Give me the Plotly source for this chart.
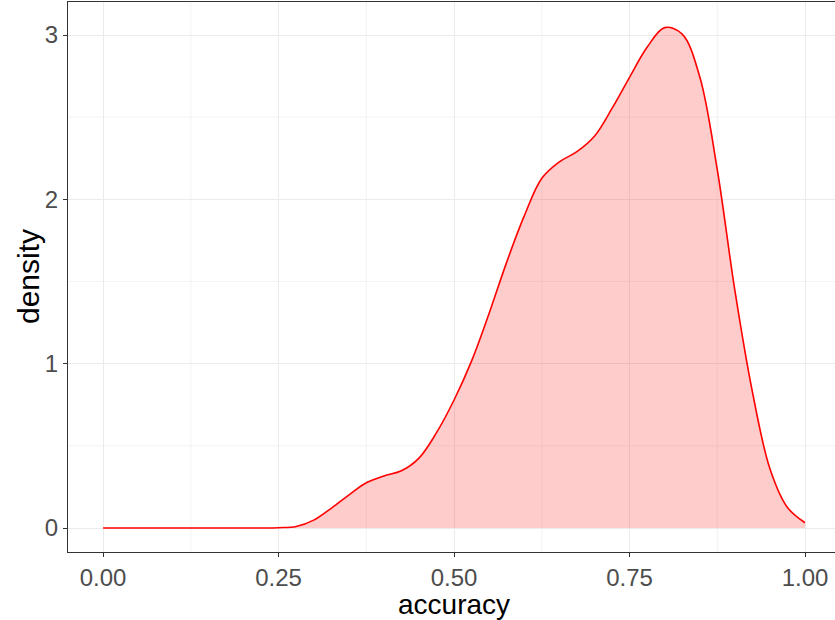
import plotly.graph_objects as go

# Kernel density estimate of model accuracy, read on a 0.025 grid
accuracy = [0.000, 0.025, 0.050, 0.075, 0.100, 0.125, 0.150, 0.175, 0.200,
            0.225, 0.250, 0.275, 0.300, 0.325, 0.350, 0.375, 0.400, 0.425,
            0.450, 0.475, 0.500, 0.525, 0.550, 0.575, 0.600, 0.625, 0.650,
            0.675, 0.700, 0.725, 0.750, 0.775, 0.800, 0.825, 0.850, 0.875,
            0.900, 0.925, 0.950, 0.975, 1.000]
density = [0.0, 0.0, 0.0, 0.0, 0.0, 0.0, 0.0, 0.0, 0.0,
           0.0002, 0.002, 0.009, 0.048, 0.120, 0.200, 0.275, 0.317, 0.348,
           0.425, 0.580, 0.779, 1.017, 1.307, 1.618, 1.899, 2.128, 2.228,
           2.290, 2.384, 2.553, 2.742, 2.925, 3.045, 3.005, 2.746, 2.180,
           1.447, 0.829, 0.361, 0.125, 0.032]

x_ticks = [0.0, 0.25, 0.5, 0.75, 1.0]
x_tick_labels = ["0.00", "0.25", "0.50", "0.75", "1.00"]
y_ticks = [0, 1, 2, 3]
y_tick_labels = ["0", "1", "2", "3"]

FONT = "Liberation Sans, Arial, sans-serif"
GRID = "#EBEBEB"
W, H = 835, 620
ML, MR, MT, MB = 68, 0, 2, 68
PW, PH = W - ML - MR, H - MT - MB

fig = go.Figure()

# minor grid lines drawn as shapes so they sit under the data
for xm in [0.125, 0.375, 0.625, 0.875]:
    fig.add_shape(type="line", xref="x", yref="paper", x0=xm, x1=xm, y0=0, y1=1,
                  line=dict(color=GRID, width=0.6), layer="below")
for ym in [0.5, 1.5, 2.5]:
    fig.add_shape(type="line", xref="paper", yref="y", x0=0, x1=1, y0=ym, y1=ym,
                  line=dict(color=GRID, width=0.6), layer="below")

fig.add_trace(go.Scatter(
    x=accuracy, y=density, mode="lines",
    line=dict(color="#FF0000", width=1.6, shape="spline", smoothing=1.0),
    fill="tozeroy", fillcolor="rgba(255,0,0,0.2)",
    hoverinfo="skip", showlegend=False,
))

# axis titles
fig.add_annotation(text="accuracy", xref="paper", yref="paper",
                   x=(454 - ML) / PW, y=(MT + PH - 604) / PH,
                   xanchor="center", yanchor="middle", showarrow=False,
                   font=dict(size=28, color="black", family=FONT))
fig.add_annotation(text="density", xref="paper", yref="paper",
                   x=(28 - ML) / PW, y=0.5, textangle=-90,
                   xanchor="center", yanchor="middle", showarrow=False,
                   font=dict(size=30, color="black", family=FONT))

fig.update_layout(
    width=W, height=H,
    margin=dict(l=ML, r=MR, t=MT, b=MB),
    paper_bgcolor="white", plot_bgcolor="white",
    font=dict(family=FONT),
    xaxis=dict(
        range=[-0.05, 1.0427], automargin=False,
        tickvals=x_ticks, ticktext=x_tick_labels,
        tickfont=dict(size=24, color="#4D4D4D"),
        ticks="outside", ticklen=4, tickcolor="#333333", tickwidth=1,
        showgrid=True, gridcolor=GRID, gridwidth=1.1,
        zeroline=False,
        showline=True, linecolor="#333333", linewidth=1.2, mirror=True,
    ),
    yaxis=dict(
        range=[-0.146, 3.2008], automargin=False,
        tickvals=y_ticks, ticktext=y_tick_labels,
        tickfont=dict(size=24, color="#4D4D4D"),
        ticks="outside", ticklen=4, tickcolor="#333333", tickwidth=1,
        showgrid=True, gridcolor=GRID, gridwidth=1.1,
        zeroline=False,
        showline=True, linecolor="#333333", linewidth=1.2, mirror=False,
    ),
)

fig.write_html("out.html")
